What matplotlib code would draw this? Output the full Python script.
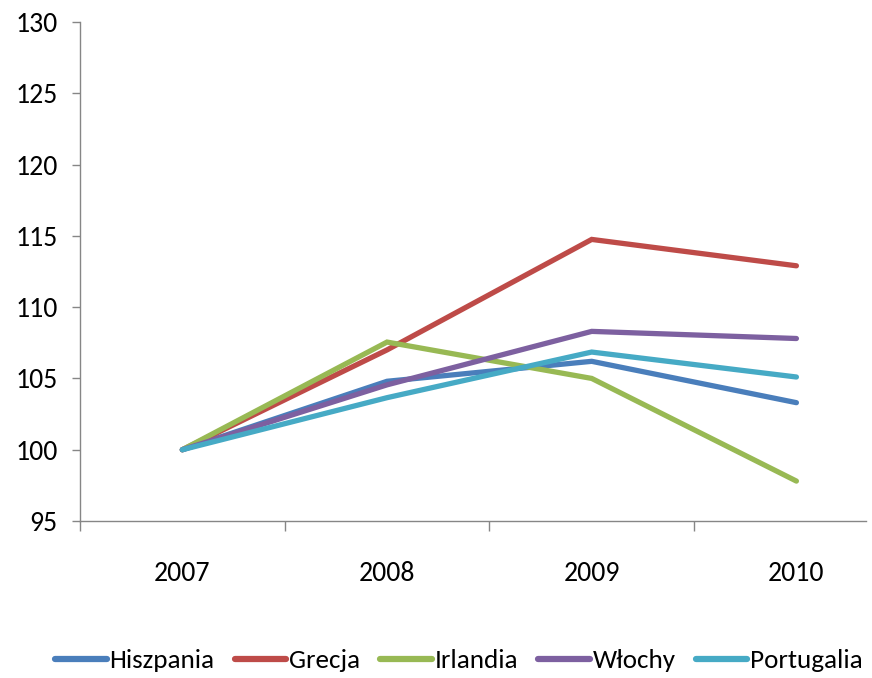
import matplotlib
matplotlib.use("Agg")
import matplotlib.pyplot as plt
from matplotlib import font_manager
from matplotlib.ticker import FixedLocator

available = {f.name for f in font_manager.fontManager.ttflist}
base_font = next((f for f in ['Carlito', 'Barlow Semi Condensed', 'Liberation Sans'] if f in available),
                 'DejaVu Sans')
plt.rcParams['font.family'] = [base_font, 'DejaVu Sans']

years = ['2007', '2008', '2009', '2010']
series_names = ['Hiszpania', 'Grecja', 'Irlandia', 'Włochy', 'Portugalia']
hiszpania = [100.0, 104.8, 106.2, 103.3]
grecja = [100.0, 107.0, 114.75, 112.9]
irlandia = [100.0, 107.55, 105.0, 97.8]
wlochy = [100.0, 104.55, 108.3, 107.8]
portugalia = [100.0, 103.65, 106.85, 105.1]
colors = ['#4A7EBB', '#BE4B48', '#98B954', '#7D60A0', '#46AAC5']

fig = plt.figure(figsize=(8.72, 6.78), dpi=100)
ax = fig.add_axes([80 / 872, 1 - 521 / 678, (866 - 80) / 872, (521 - 22) / 678])

x = list(range(len(years)))
for name, vals, c in zip(series_names, [hiszpania, grecja, irlandia, wlochy, portugalia], colors):
    ax.plot(x, vals, color=c, lw=3.8, solid_capstyle='round', solid_joinstyle='miter', label=name)

ax.set_xlim(-0.5, 3.34)
ax.set_ylim(95, 130)
ax.set_yticks(range(95, 131, 5))
ax.set_xticks(x)
ax.set_xticklabels(years)
ax.xaxis.set_minor_locator(FixedLocator([-0.5, 0.5, 1.5, 2.5]))

axis_gray = '#868686'
for s in ['top', 'right']:
    ax.spines[s].set_visible(False)
for s in ['left', 'bottom']:
    ax.spines[s].set_color(axis_gray)
    ax.spines[s].set_linewidth(1.0)

ax.tick_params(axis='y', direction='out', length=6, width=1, color=axis_gray,
               labelsize=20, pad=10, labelcolor='#000000')
ax.tick_params(axis='x', which='major', length=0, labelsize=20, pad=29)
ax.tick_params(axis='x', which='minor', direction='out', length=7, width=1, color=axis_gray)

leg = fig.legend(loc='center', bbox_to_anchor=(459 / 872, 1 - 661 / 678), ncol=5,
                 frameon=False, fontsize=19.5, handlelength=1.9, handletextpad=0.1,
                 columnspacing=0.75)
for line in leg.get_lines():
    line.set_linewidth(4.5)

fig.savefig('out.png', dpi=100, facecolor='white')
